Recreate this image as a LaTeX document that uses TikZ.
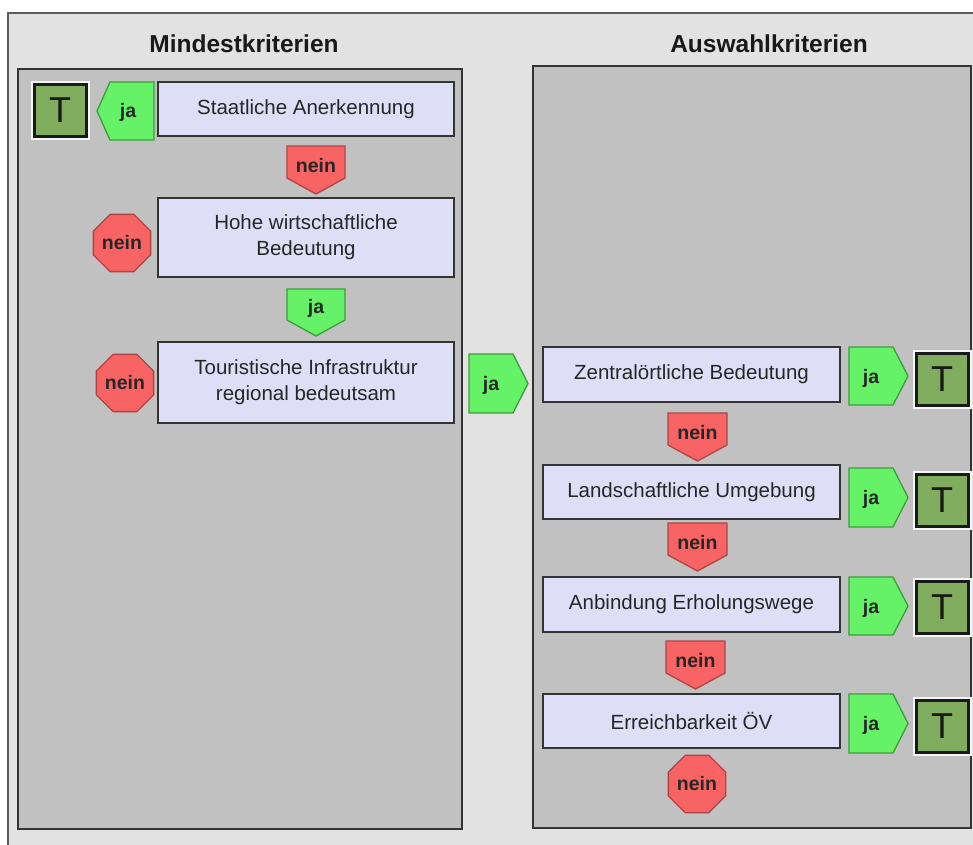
\documentclass[tikz,border=0pt]{standalone}
\usepackage{fontspec}
\setmainfont{Liberation Sans}
\usetikzlibrary{shapes.geometric}
\definecolor{outerbg}{HTML}{E2E2E2}
\definecolor{panelbg}{HTML}{C1C1C1}
\definecolor{lav}{HTML}{DEDEF7}
\definecolor{jafill}{HTML}{66F266}
\definecolor{jaline}{HTML}{3C9C3C}
\definecolor{neinfill}{HTML}{F86464}
\definecolor{neinline}{HTML}{B04444}
\definecolor{tfill}{HTML}{7FAD5D}
\definecolor{boxline}{HTML}{333333}
\tikzset{
  panel/.style={draw=boxline, line width=2, fill=panelbg},
  crit/.style={draw=boxline, line width=2, fill=lav, minimum width=296, inner sep=0,
    align=center, text=black!85, font=\fontsize{20.5}{26}\selectfont},
  title/.style={font=\bfseries\fontsize{24.5}{28}\selectfont, text=black!90},
  jatag/.style={draw=jaline, line width=1.3, fill=jafill},
  neintag/.style={draw=neinline, line width=1.3, fill=neinfill},
  tagtext/.style={font=\bfseries\fontsize{19.5}{22}\selectfont, text=black!85, inner sep=0},
  octa/.style={regular polygon, regular polygon sides=8, minimum size=62, inner sep=0,
    draw=neinline, line width=1.3, fill=neinfill, font=\bfseries\fontsize{19.5}{22}\selectfont, text=black!85},
  tbox/.style={draw=black!90, line width=3, fill=tfill, minimum size=52, inner sep=0,
    font=\fontsize{36}{40}\selectfont, text=black!90,
    preaction={draw=white!92!gray, line width=7}},
}
\begin{document}
\begin{tikzpicture}[x=1pt,y=-1pt]
\useasboundingbox (0,0) rectangle (973,844);
\begin{scope}
\clip (0,0) rectangle (973,844);
\draw[draw=boxline!80, line width=2, fill=outerbg] (8,13) rectangle (990,860);
\end{scope}
% panels
\draw[panel] (18,69) rectangle (462,829);
\draw[panel] (533,66) rectangle (971,828);
\node[title] (t1) at (244,44) {Mindestkriterien};
\node[title] (t2) at (769,44) {Auswahlkriterien};

% ---- left column
\node[crit, minimum height=54] (sa) at (306,109) {Staatliche Anerkennung};
\draw[jatag] (154,82) -- (110,82) -- (97,111) -- (110,140) -- (154,140) -- cycle;
\node[tagtext] (ja1) at (128,112) {ja};
\node[tbox] (T1) at (60,110) {T};

\draw[neintag] (287,146) -- (345,146) -- (345,178) -- (316,194) -- (287,178) -- cycle;
\node[tagtext] (n1) at (316,166) {nein};

\node[crit, minimum height=79] (hw) at (306,237.5) {Hohe wirtschaftliche\\Bedeutung};
\node[octa] (o1) at (122,243) {nein};

\draw[jatag] (287,289) -- (345,289) -- (345,320) -- (316,336) -- (287,320) -- cycle;
\node[tagtext] (ja2) at (316,308) {ja};

\node[crit, minimum height=81] (ti) at (306,382.5) {Touristische Infrastruktur\\regional bedeutsam};
\node[octa] (o2) at (125,383) {nein};

\draw[jatag] (469,354) -- (513,354) -- (528,383.5) -- (513,413) -- (469,413) -- cycle;
\node[tagtext] (ja3) at (491,385) {ja};

% ---- right column
\node[crit, minimum width=297, minimum height=55] (r1) at (691.5,374.5) {Zentralörtliche Bedeutung};
\node[crit, minimum width=297, minimum height=54] (r2) at (691.5,492) {Landschaftliche Umgebung};
\node[crit, minimum width=297, minimum height=55] (r3) at (691.5,604.5) {Anbindung Erholungswege};
\node[crit, minimum width=297, minimum height=54] (r4) at (691.5,721) {Erreichbarkeit ÖV};

% ja tags right
\draw[jatag] (849,347) -- (893,347) -- (908,376) -- (893,405) -- (849,405) -- cycle;
\node[tagtext] (rj1) at (871,378) {ja};
\draw[jatag] (849,468) -- (893,468) -- (908,497.5) -- (893,527) -- (849,527) -- cycle;
\node[tagtext] (rj2) at (871,499) {ja};
\draw[jatag] (849,577) -- (893,577) -- (908,606) -- (893,635) -- (849,635) -- cycle;
\node[tagtext] (rj3) at (871,608) {ja};
\draw[jatag] (849,694) -- (893,694) -- (908,723.5) -- (893,753) -- (849,753) -- cycle;
\node[tagtext] (rj4) at (871,725) {ja};

% T boxes right
\node[tbox] (T2) at (942,379.5) {T};
\node[tbox] (T3) at (942,500) {T};
\node[tbox] (T4) at (942,607) {T};
\node[tbox] (T5) at (942,726) {T};

% nein tags right
\draw[neintag] (668,413) -- (727,413) -- (727,445) -- (697.5,461) -- (668,445) -- cycle;
\node[tagtext] (rn1) at (697.5,433) {nein};
\draw[neintag] (668,523) -- (727,523) -- (727,555) -- (697.5,571) -- (668,555) -- cycle;
\node[tagtext] (rn2) at (697.5,543) {nein};
\draw[neintag] (666,641) -- (725,641) -- (725,673) -- (695.5,689) -- (666,673) -- cycle;
\node[tagtext] (rn3) at (695.5,661) {nein};
\node[octa] (o3) at (697,784) {nein};
\end{tikzpicture}
\end{document}
